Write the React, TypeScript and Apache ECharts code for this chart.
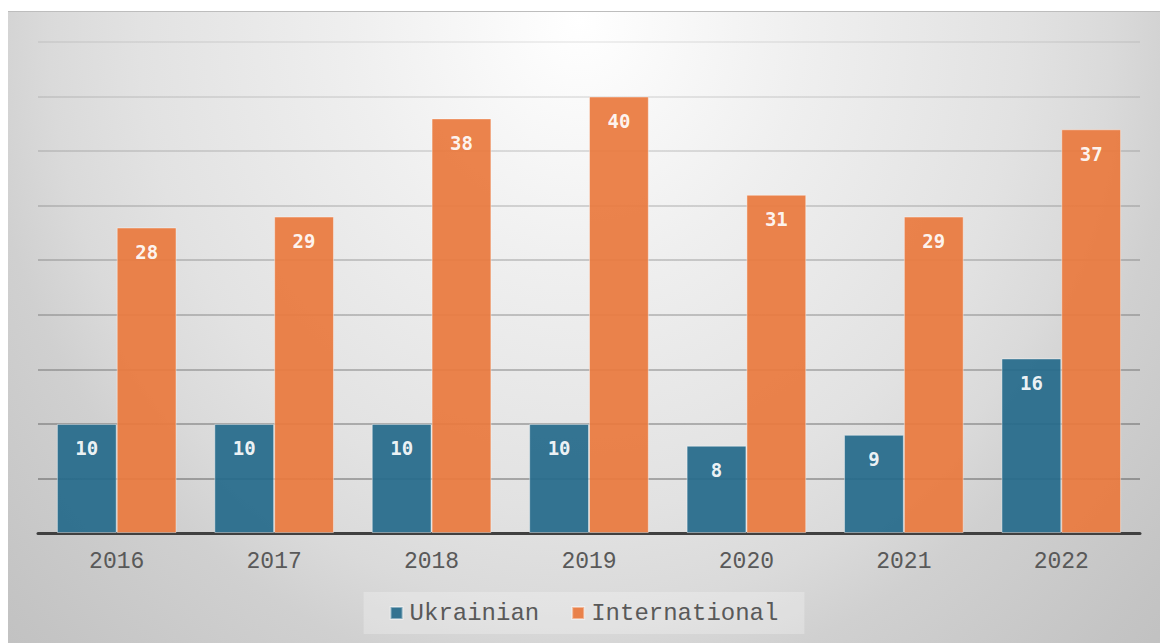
import React, { useEffect, useRef } from "react";
import * as echarts from "echarts";

const years = ["2016", "2017", "2018", "2019", "2020", "2021", "2022"];
const ukrainian = [10, 10, 10, 10, 8, 9, 16];
const international = [28, 29, 38, 40, 31, 29, 37];
const seriesNames = ["Ukrainian", "International"];
const axisMax = 45;
const axisStep = 5;

export default function App() {
  const ref = useRef<HTMLDivElement>(null);
  useEffect(() => {
    if (!ref.current) return;
    const chart = echarts.init(ref.current, undefined, { renderer: "svg" });
    const labelStyle = {
      show: true,
      position: "insideTop",
      distance: 15,
      color: "#ffffff",
      fontFamily: "DejaVu Sans Mono",
      fontWeight: "bold",
      fontSize: 19,
    };
    chart.setOption({
      animation: false,
      backgroundColor: "transparent",
      grid: { left: 30, right: 20, top: 30, bottom: 110 },
      xAxis: {
        type: "category",
        data: years,
        axisLine: { lineStyle: { color: "#404040", width: 3 } },
        axisTick: { show: false },
        axisLabel: {
          color: "#595959",
          fontFamily: "Liberation Mono",
          fontSize: 23,
          margin: 17,
        },
      },
      yAxis: {
        type: "value",
        min: 0,
        max: axisMax,
        interval: axisStep,
        axisLabel: { show: false },
        axisLine: { show: false },
        axisTick: { show: false },
        splitLine: {
          lineStyle: {
            width: 1.5,
            color: new echarts.graphic.LinearGradient(
              0, 30, 0, 522,
              [
                { offset: 0, color: "rgba(0,0,0,0.08)" },
                { offset: 0.5, color: "rgba(0,0,0,0.24)" },
                { offset: 1, color: "rgba(0,0,0,0.4)" },
              ],
              true
            ),
          },
        },
      },
      legend: {
        data: seriesNames,
        left: "center",
        top: 580,
        padding: [9, 26],
        backgroundColor: "rgba(255,255,255,0.25)",
        itemWidth: 12,
        itemHeight: 12,
        itemGap: 32,
        icon: "rect",
        textStyle: {
          color: "#595959",
          fontFamily: "Liberation Mono",
          fontSize: 24,
          padding: [0, 0, 0, 2],
        },
      },
      series: [
        {
          name: seriesNames[0],
          type: "bar",
          data: ukrainian,
          barGap: "0%",
          barCategoryGap: "24%",
          itemStyle: {
            color: "#266a8b",
            opacity: 0.93,
            borderColor: "rgba(255,255,255,0.45)",
            borderWidth: 1,
          },
          label: labelStyle,
        },
        {
          name: seriesNames[1],
          type: "bar",
          data: international,
          barGap: "0%",
          barCategoryGap: "24%",
          itemStyle: {
            color: "#e97a3e",
            opacity: 0.93,
            borderColor: "rgba(255,255,255,0.45)",
            borderWidth: 1,
          },
          label: labelStyle,
        },
      ],
    });
    return () => chart.dispose();
  }, []);
  return (
    <div
      style={{
        position: "absolute",
        left: 8,
        top: 11,
        width: 1152,
        height: 632,
        borderTop: "1px solid #bdbdbd",
        boxSizing: "border-box",
        background:
          "radial-gradient(ellipse 900px 1000px at 572px 9px, #ffffff 0%, #efefef 25%, #e2e2e2 49%, #dadada 59%, #d0d0d0 67%, #c4c4c4 85%, #bcbcbc 100%)",
      }}
    >
      <div ref={ref} style={{ width: 1152, height: 631 }} />
    </div>
  );
}
